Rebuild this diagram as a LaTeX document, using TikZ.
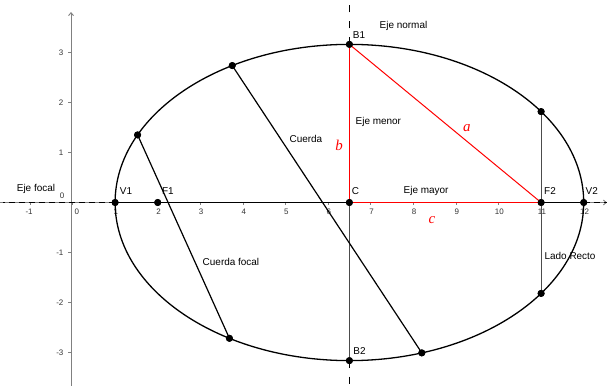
\documentclass[tikz,border=0pt]{standalone}
\usepackage{fontspec}
\setmainfont{Liberation Sans}
\newfontfamily\serifit{Liberation Serif}
\usetikzlibrary{arrows.meta}
\begin{document}
\begin{tikzpicture}[x=42.6bp,y=50bp,
  lbl/.style={inner sep=0pt,font=\fontsize{10}{12}\selectfont},
  ticklbl/.style={inner sep=0pt,font=\fontsize{8}{9}\selectfont,text=black!80},
  redlbl/.style={inner sep=0pt,text=red,font=\serifit\itshape\fontsize{15}{16}\selectfont},
  axisline/.style={draw=black!50,line width=0.9bp},
  curve/.style={line width=1.3bp},
  seg/.style={line width=1.2bp},
  grayseg/.style={draw=black!70,line width=1.1bp},
  hdash/.style={line width=1.2bp,dash pattern=on 6bp off 4bp},
  vdash/.style={line width=1.2bp,dash pattern=on 7bp off 9bp},
  redseg/.style={draw=red,line width=1bp},
  pt/.style={circle,fill=black,inner sep=0pt,minimum size=7bp}]
\useasboundingbox (-1.7019,-3.67) rectangle (12.547,4.05);
\def\bb{3.1623}
% axes
\coordinate (xl) at (-1.7019,0);
\coordinate (xr) at (12.547,0);
\coordinate (yb) at (-0.035,-3.67);
\coordinate (yt) at (-0.035,3.81);
\draw[axisline,-{Straight Barb[length=3bp,width=5bp]}] (xl) -- (xr);
\draw[axisline,-{Straight Barb[length=3bp,width=5bp]}] (yb) -- (yt);
\foreach \i in {-1,...,12} \draw[axisline,line width=0.7bp] (\i,0) -- (\i,-0.06);
\foreach \j in {-3,-2,-1,1,2,3} \draw[axisline,line width=0.7bp] (-0.035,\j) -- (-0.11,\j);
% tick labels
\foreach \i in {1,...,12} \node[ticklbl] (tx\i) at (\i+0.02,-0.19) {\i};
\node[ticklbl] (txm1) at (-1.02,-0.19) {-1};
\node[ticklbl] (tx0) at (0.1,-0.19) {0};
\node[ticklbl] (ty0) at (-0.246,0.13) {0};
\foreach \j in {1,2,3} \node[ticklbl,anchor=east] (ty\j) at (-0.21,\j) {\j};
\foreach \j in {1,2,3} \node[ticklbl,anchor=east] (tym\j) at (-0.21,-\j) {-\j};
% ellipse
\draw[curve] (6.5,0) ellipse [x radius=5.5, y radius=\bb];
% points
\node[pt] (V1) at (1,0) {};
\node[pt] (F1) at (2,0) {};
\node[pt] (C) at (6.5,0) {};
\node[pt] (F2) at (11,0) {};
\node[pt] (V2) at (12,0) {};
\node[pt] (B1) at (6.5,\bb) {};
\node[pt] (B2) at (6.5,-\bb) {};
\node[pt] (L1) at (11,1.818) {};
\node[pt] (L2) at (11,-1.818) {};
\node[pt] (P1) at ({6.5+5.5*cos(120)},{\bb*sin(120)}) {};
\node[pt] (P2) at ({6.5+5.5*cos(288)},{\bb*sin(288)}) {};
\node[pt] (A1) at ({6.5+5.5*cos(154.7)},{\bb*sin(154.7)}) {};
\node[pt] (A2) at ({6.5+5.5*cos(239.2)},{\bb*sin(239.2)}) {};
\coordinate (vt) at (6.5,4.05);
\coordinate (vb) at (6.5,-3.67);
\coordinate (hl) at (-1.62,0);
\coordinate (hr) at (12.547,0);
% focal axis and normal axis
\draw[hdash] (V1.center) -- (hl);
\draw[hdash] (V2.center) -- (hr);
\draw[seg] (V1.center) -- (V2.center);
\draw[vdash] (B1.center) -- (vt);
\draw[vdash] (B2.center) -- (vb);
\draw[grayseg] (C.center) -- (B2.center);
% chords
\draw[seg] (P1.center) -- (P2.center);
\draw[seg] (A1.center) -- (A2.center);
\draw[grayseg] (L1.center) -- (L2.center);
% red triangle
\draw[redseg] (C.center) -- (B1.center);
\draw[redseg] (C.center) -- (F2.center);
\draw[redseg] (B1.center) -- (F2.center);
% redraw points on top
\foreach \p in {V1,F1,C,F2,V2,B1,B2,L1,L2,P1,P2,A1,A2}
  \fill (\p.center) circle (3.5bp);
% labels
\node[lbl] (tEf) at (-0.857,0.27) {Eje focal};
\node[lbl] (tV1) at (1.256,0.23) {V1};
\node[lbl] (tF1) at (2.24,0.23) {F1};
\node[lbl] (tC) at (6.64,0.23) {C};
\node[lbl] (tEM) at (8.30,0.23) {Eje mayor};
\node[lbl] (tF2) at (11.21,0.23) {F2};
\node[lbl] (tV2) at (12.19,0.23) {V2};
\node[lbl] (tB1) at (6.725,3.35) {B1};
\node[lbl] (tEn) at (7.77,3.53) {Eje normal};
\node[lbl] (tEm) at (7.18,1.61) {Eje menor};
\node[lbl] (tCu) at (5.48,1.27) {Cuerda};
\node[lbl] (tCf) at (3.72,-1.19) {Cuerda focal};
\node[lbl] (tLR) at (11.68,-1.07) {Lado Recto};
\node[lbl] (tB2) at (6.737,-2.97) {B2};
\node[redlbl] (ta) at (9.26,1.49) {a};
\node[redlbl] (tb) at (6.256,1.15) {b};
\node[redlbl] (tc) at (8.44,-0.35) {c};
\end{tikzpicture}
\end{document}
